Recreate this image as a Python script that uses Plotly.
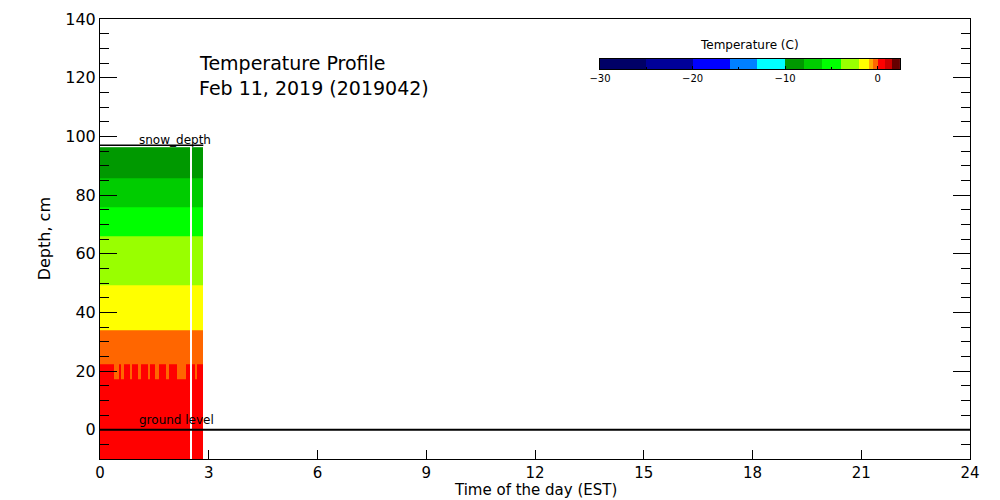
import plotly.graph_objects as go

# ---------------- data ----------------
# colour levels (deg C) and colours of the temperature scale
levels = [-30, -25, -20, -16, -13, -10, -8, -6, -4, -2, -1, -0.5, 0, 0.8, 1.5, 2.4]
level_colors = ["#000066", "#000099", "#0000FF", "#0080FF", "#00FFFF",
                "#009900", "#00CC00", "#00FF00", "#99FF00", "#FFFF00",
                "#FFAA00", "#FF6600", "#FF0000", "#CC0000", "#660000"]
cbar_ticks = [-30, -20, -10, 0]

# time column edges (minutes after midnight)
time_edges_min = [0, 23, 31, 35, 39, 50, 53, 63, 68, 79, 83, 91, 98, 109,
                  114, 127, 142, 149, 153, 157, 161, 171]
# depth layer edges (cm)
depth_edges = [-10, 17.3, 22.4, 34.0, 49.3, 66.0, 76.0, 85.9, 96.3]
# temperature of each layer (None = varies by column, see below)
layer_temps = [0.3, None, -0.3, -1.5, -3.0, -5.0, -7.0, -9.0]
# temperature of the 17-22 cm layer in each time column (None = missing column)
transition_temps = [0.3, -0.3, 0.3, -0.3, 0.3, -0.3, 0.3, -0.3, 0.3, -0.3,
                    0.3, -0.3, 0.3, -0.3, 0.3, -0.3, 0.3, None, 0.3, -0.3, 0.3]

snow_depth = 97.0           # cm
snow_time_end = 171         # minutes of data
ground_level = 0

# ---------------- build ----------------
zmin, zmax = levels[0], levels[-1]
colorscale = []
for i, c in enumerate(level_colors):
    colorscale.append([(levels[i] - zmin) / (zmax - zmin), c])
    colorscale.append([(levels[i + 1] - zmin) / (zmax - zmin), c])

time_edges_h = [m / 60 for m in time_edges_min]
z = []
for lt in layer_temps:
    row = []
    for tt in transition_temps:
        if tt is None:
            row.append(None)
        else:
            row.append(tt if lt is None else lt)
    z.append(row)

FONT = "DejaVu Sans"
fig = go.Figure()
fig.add_trace(go.Heatmap(
    x=time_edges_h, y=depth_edges, z=z, zmin=zmin, zmax=zmax,
    colorscale=colorscale, showscale=False, hoverinfo="skip", zsmooth=False))

# snow depth line and ground level line
fig.add_trace(go.Scatter(x=[0, snow_time_end / 60], y=[snow_depth, snow_depth],
                         mode="lines", line=dict(color="black", width=1.5),
                         hoverinfo="skip", showlegend=False))
fig.add_trace(go.Scatter(x=[0, 24], y=[ground_level, ground_level], mode="lines",
                         line=dict(color="black", width=2), hoverinfo="skip",
                         showlegend=False))

# colour bar drawn as a heatmap on its own axes
mids = [(levels[i] + levels[i + 1]) / 2 for i in range(len(level_colors))]
fig.add_trace(go.Heatmap(
    x=levels, y=[0, 1], z=[mids], zmin=zmin, zmax=zmax, colorscale=colorscale,
    showscale=False, hoverinfo="skip", xaxis="x2", yaxis="y2", zsmooth=False))

fig.update_layout(
    width=1000, height=500,
    margin=dict(l=100, r=30, t=19, b=41),
    paper_bgcolor="white", plot_bgcolor="white",
    font=dict(family=FONT, color="black", size=16),
    showlegend=False,
    xaxis=dict(range=[0, 24], tickvals=[0, 3, 6, 9, 12, 15, 18, 21, 24],
               ticks="inside", ticklen=9, tickwidth=1, tickcolor="black",
               showline=True, linecolor="black", linewidth=1, mirror=True,
               showgrid=False, zeroline=False, tickfont=dict(size=15),
               automargin=False),
    yaxis=dict(range=[-10, 140], tickvals=[0, 20, 40, 60, 80, 100, 120, 140],
               ticks="inside", ticklen=17, tickwidth=1, tickcolor="black",
               minor=dict(dtick=5, tick0=0, ticks="inside", ticklen=9,
                          tickcolor="black", tickwidth=1, showgrid=False),
               showline=True, linecolor="black", linewidth=1, mirror="ticks",
               showgrid=False, zeroline=False, tickfont=dict(size=16),
               automargin=False),
    xaxis2=dict(domain=[0.5747, 0.9195], anchor="y2", range=[zmin, zmax],
                tickvals=cbar_ticks, ticks="inside", ticklen=3, tickcolor="black",
                minor=dict(tickvals=[-25, -15, -5], ticks="inside", ticklen=2,
                           tickcolor="black"),
                showline=True, linecolor="black", linewidth=1, mirror=True,
                showgrid=False, zeroline=False, tickfont=dict(size=10),
                automargin=False),
    yaxis2=dict(domain=[0.886, 0.909], anchor="x2", range=[0, 1],
                showticklabels=False, ticks="", showline=True, linecolor="black",
                linewidth=1, mirror=True, showgrid=False, zeroline=False,
                automargin=False),
    annotations=[
        dict(text="Temperature Profile", xref="paper", yref="paper",
             x=0.1115, y=0.9, xanchor="left", yanchor="middle", showarrow=False,
             font=dict(size=19)),
        dict(text="Feb 11, 2019 (2019042)", xref="paper", yref="paper",
             x=0.1115, y=0.843, xanchor="left", yanchor="middle", showarrow=False,
             font=dict(size=19)),
        dict(text="Temperature (C)", xref="paper", yref="paper",
             x=0.747, y=0.941, xanchor="center", yanchor="middle", showarrow=False,
             font=dict(size=12)),
        dict(text="snow_depth", xref="x", yref="y", x=1.02, y=98.8,
             xanchor="left", yanchor="middle", showarrow=False, font=dict(size=12)),
        dict(text="ground level", xref="x", yref="y", x=1.02, y=3.3,
             xanchor="left", yanchor="middle", showarrow=False, font=dict(size=12)),
        dict(text="Time of the day (EST)", xref="paper", yref="paper",
             x=0.5, y=-0.071, xanchor="center", yanchor="middle", showarrow=False,
             font=dict(size=15)),
        dict(text="Depth, cm", xref="paper", yref="paper", x=-0.064, y=0.5,
             xanchor="center", yanchor="middle", textangle=-90, showarrow=False,
             font=dict(size=16)),
    ],
)

fig.write_html("out.html", config=dict(displayModeBar=False),
               post_script="document.body.style.margin='0';")
